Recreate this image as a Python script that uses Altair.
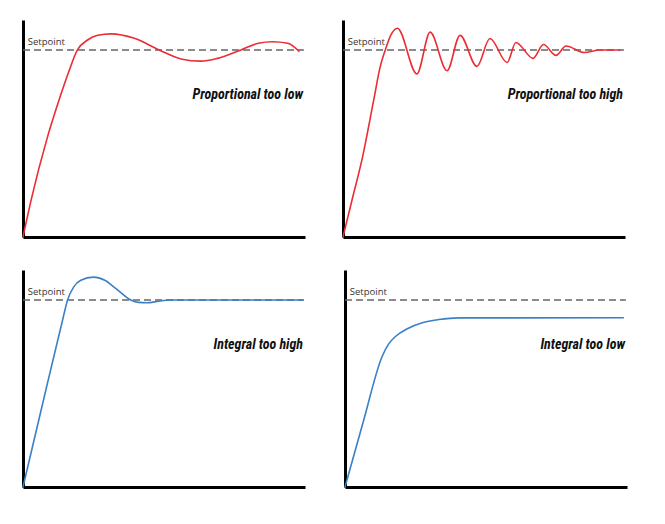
import altair as alt
import pandas as pd

# ---- data ----
SETPOINT = 1.0
SP_X = [0, 99.6]
LABEL_X = 1.7
LABEL_Y = 1.045
TITLE_X = 99.3
TITLE_Y = 0.757

TITLES = ["Proportional too low", "Proportional too high", "Integral too high", "Integral too low"]

P_LOW_X = [0, 3.0, 8.6, 12.2, 16.1, 19.3, 22.9, 26.5, 31.2, 39.5, 48.3, 56.0, 63.1, 69.0, 77.3, 83.5, 88.5, 93.9, 98.0]
P_LOW_Y = [0, 0.205, 0.53, 0.705, 0.878, 1.0, 1.053, 1.078, 1.086, 1.062, 1.0, 0.952, 0.940, 0.955, 1.0, 1.036, 1.044, 1.036, 0.991]

P_HIGH_X = [0, 3.2, 6.7, 10.9, 13.2, 15.0, 17.0, 19.3, 26.2, 30.9, 36.9, 41.5, 47.5, 52.1, 58.2, 61.3, 67.4, 71.1, 75.5, 79.1, 85.5, 91.2, 98.3]
P_HIGH_Y = [0, 0.198, 0.412, 0.733, 0.911, 1.0, 1.08, 1.116, 0.872, 1.095, 0.889, 1.078, 0.912, 1.061, 0.933, 1.040, 0.955, 1.029, 0.971, 1.021, 0.986, 1.0, 1.0]

I_HIGH_X = [0, 7.5, 14.0, 15.8, 18.0, 20.5, 25.0, 29.0, 33.0, 38.2, 41.0, 44.0, 48.0, 52.0, 99.5]
I_HIGH_Y = [0, 0.48, 0.89, 1.0, 1.07, 1.105, 1.122, 1.105, 1.06, 1.0, 0.987, 0.985, 0.993, 1.0, 1.0]

I_LOW_X = [0, 6.5, 13.2, 15.5, 18.0, 22.1, 27.4, 33.3, 40.4, 98.9]
I_LOW_Y = [0, 0.35, 0.699, 0.765, 0.806, 0.846, 0.878, 0.895, 0.904, 0.905]

RED = "#ec2c33"
BLUE = "#3b80c6"

xscale = alt.Scale(domain=[0, 100], nice=False, zero=False)
yscale = alt.Scale(domain=[0, 1.16], nice=False, zero=False)
axis_common = dict(domain=True, domainColor="black", domainWidth=3, labels=False,
                   ticks=False, grid=False, title=None)
xaxis = alt.Axis(**axis_common)
yaxis = alt.Axis(**axis_common)

TITLE_FONT = "Roboto Condensed, DejaVu Sans Condensed, Liberation Sans Narrow, Roboto, sans-serif"


def panel(xs, ys, color, title):
    curve = alt.Chart(pd.DataFrame({"t": xs, "v": ys})).mark_line(
        color=color, strokeWidth=1.6, interpolate="monotone"
    ).encode(
        x=alt.X("t:Q", scale=xscale, axis=xaxis),
        y=alt.Y("v:Q", scale=yscale, axis=yaxis),
    )
    sp = alt.Chart(pd.DataFrame({"t": [SP_X[0]], "t2": [SP_X[1]], "v": [SETPOINT]})).mark_rule(
        color="#666666", strokeWidth=1.6, strokeDash=[7, 4]
    ).encode(
        x=alt.X("t:Q", scale=xscale, axis=xaxis),
        x2="t2:Q",
        y=alt.Y("v:Q", scale=yscale, axis=yaxis),
    )
    lab = alt.Chart(pd.DataFrame({"t": [LABEL_X], "v": [LABEL_Y], "s": ["Setpoint"]})).mark_text(
        align="left", baseline="middle", font="Open Sans", fontSize=9.5, color="#333333"
    ).encode(
        x=alt.X("t:Q", scale=xscale, axis=xaxis),
        y=alt.Y("v:Q", scale=yscale, axis=yaxis),
        text="s:N",
    )
    ttl = alt.Chart(pd.DataFrame({"t": [TITLE_X], "v": [TITLE_Y], "s": [title]})).mark_text(
        align="right", baseline="middle", font=TITLE_FONT, fontSize=14,
        fontWeight="bold", fontStyle="italic", color="#111111"
    ).encode(
        x=alt.X("t:Q", scale=xscale, axis=xaxis),
        y=alt.Y("v:Q", scale=yscale, axis=yaxis),
        text="s:N",
    )
    return alt.layer(sp, curve, lab, ttl).properties(width=282, height=217)


row1 = alt.hconcat(panel(P_LOW_X, P_LOW_Y, RED, TITLES[0]),
                   panel(P_HIGH_X, P_HIGH_Y, RED, TITLES[1]), spacing=34)
row2 = alt.hconcat(panel(I_HIGH_X, I_HIGH_Y, BLUE, TITLES[2]),
                   panel(I_LOW_X, I_LOW_Y, BLUE, TITLES[3]), spacing=34)

chart = alt.vconcat(row1, row2, spacing=29).properties(
    padding={"left": 11, "top": 12, "right": 5, "bottom": 5},
    background="white",
).configure_view(stroke=None)

chart.save("out.html", embed_options={"renderer": "svg", "actions": False})
